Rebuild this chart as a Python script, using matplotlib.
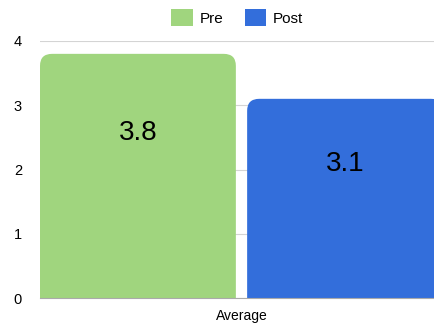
import matplotlib.pyplot as plt
from matplotlib.patches import FancyBboxPatch, Patch

# data
categories = ["Average"]
series = ["Pre", "Post"]
values = [3.8, 3.1]
colors = ["#A0D57E", "#336EDB"]

plt.rcParams['font.family'] = ['Liberation Sans', 'DejaVu Sans']

fig = plt.figure(figsize=(4.35, 3.28), dpi=100)
ax = fig.add_axes([40 / 435, 30 / 328, 403 / 435, 257 / 328])

# bars with rounded tops (bottom corners are hidden below 0)
bar_w = 0.486
offsets = [-0.257, 0.257]
for i, (name, v, c) in enumerate(zip(series, values, colors)):
    x0 = offsets[i] - bar_w / 2
    p = FancyBboxPatch((x0, -0.5), bar_w, v + 0.5,
                       boxstyle="round,pad=0,rounding_size=0.03",
                       mutation_aspect=6.2, facecolor=c, edgecolor='none',
                       zorder=2, clip_on=True)
    ax.add_patch(p)
    ax.text(offsets[i], v * 0.675, str(v),
            ha='center', va='center', fontsize=20, zorder=3)

ax.set_xlim(-0.5, 0.5)
ax.set_ylim(0, 4)
ax.set_yticks([0, 1, 2, 3, 4])
ax.set_xticks([0])
ax.set_xticklabels(categories, fontsize=10)

for s in ['top', 'right', 'left']:
    ax.spines[s].set_visible(False)
ax.spines['bottom'].set_color('#aaaaaa')
ax.spines['bottom'].set_zorder(4)
ax.tick_params(axis='both', length=0)
ax.tick_params(axis='y', pad=13, labelsize=10.5)
ax.tick_params(axis='x', pad=8)
ax.yaxis.grid(True, color='#d4d4d4', linewidth=0.8, zorder=0)
ax.set_axisbelow(True)

handles = [Patch(facecolor=c, label=n) for n, c in zip(series, colors)]
fig.legend(handles=handles, loc='upper center', bbox_to_anchor=(0.545, 1.015),
           ncol=2, frameon=False, fontsize=11, handlelength=1.4,
           handleheight=1.4, handletextpad=0.45, columnspacing=1.4)

fig.savefig("out.png", dpi=100)
